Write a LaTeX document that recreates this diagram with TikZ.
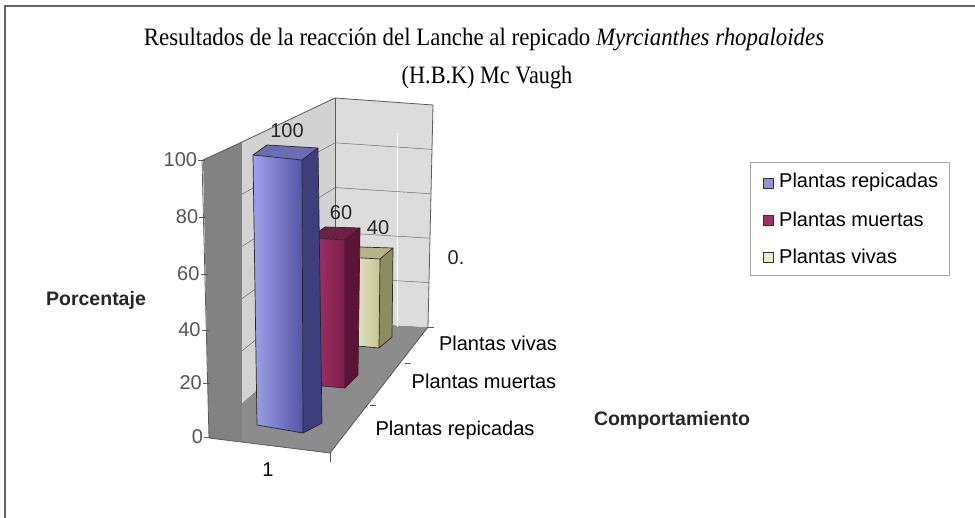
\documentclass[tikz,border=0pt]{standalone}
\usepackage{fontspec}
\usepackage{graphicx}
\setmainfont{Liberation Serif}
\newfontfamily\arialf{Liberation Sans}
\definecolor{darkwall}{HTML}{828282}
\definecolor{floorc}{HTML}{8C8C8C}
\definecolor{sidewall}{HTML}{D2D2D2}
\definecolor{backwall}{HTML}{DCDCDC}
\definecolor{gridc}{HTML}{6E6E6E}
\definecolor{edgec}{HTML}{5A5A5A}
\definecolor{blueL}{HTML}{A0A0EC}
\definecolor{blueR}{HTML}{5454A4}
\definecolor{blueS}{HTML}{3E3E7C}
\definecolor{blueT}{HTML}{6C6CB4}
\definecolor{redL}{HTML}{A83466}
\definecolor{redR}{HTML}{7C1E4C}
\definecolor{redS}{HTML}{5A1434}
\definecolor{redT}{HTML}{6E1F42}
\definecolor{yelL}{HTML}{F2F2CC}
\definecolor{yelR}{HTML}{C4C496}
\definecolor{yelS}{HTML}{8C8C5E}
\definecolor{yelT}{HTML}{B4B486}
\definecolor{ticktext}{HTML}{555555}
\tikzset{
  sanslbl/.style={font=\arialf\fontsize{20}{22}\selectfont, inner sep=0pt},
  ticklbl/.style={sanslbl, text=ticktext, anchor=east},
  boldlbl/.style={font=\arialf\bfseries\fontsize{19.5}{22}\selectfont, inner sep=0pt, text=black!85},
  baredge/.style={draw=black!85, line width=0.7pt, line join=round},
  grid3d/.style={draw=gridc, line width=0.5pt},
  legmark/.style={draw=black!80, line width=0.5pt},
  titlelbl/.style={font=\fontsize{25}{27}\selectfont, inner sep=0pt},
}
\begin{document}
\begin{tikzpicture}[x=1pt,y=-1pt]
\useasboundingbox (0,0) rectangle (975,518);
% outer frame
\draw[draw=black!60, line width=1.3pt] (5,518) -- (5,6) -- (975,6);
% title
\node[titlelbl] (title1) at (484,40) {\scalebox{0.915}[1]{Resultados de la reacción del Lanche al repicado \textit{Myrcianthes rhopaloides}}};
\node[titlelbl] (title2) at (487,78) {\scalebox{0.89}[1]{(H.B.K) Mc Vaugh}};
% walls
\fill[darkwall] (203,160) -- (242,142) -- (242,442) -- (209,438) -- cycle;
\fill[floorc] (242,403) -- (335,322) -- (428,327) -- (330,453) -- (209,438) -- (242,442) -- cycle;
\fill[sidewall] (242,142) -- (335,98) -- (335,322) -- (242,403) -- cycle;
\fill[backwall] (335,98) -- (433,105) -- (428,327) -- (335,322) -- cycle;
\draw[white, line width=1pt] (397,133) -- (397,327);
% gridlines
\foreach \k in {1,2,3,4}{
  \draw[grid3d] (335,{98+44.8*\k}) -- ({433-1*\k},{105+44.4*\k});
  \draw[grid3d] (242,{142+52.2*\k}) -- (335,{98+44.8*\k});
}
\draw[edgec, line width=0.8pt] (203,160) -- (242,142) -- (335,98) -- (433,105) -- (428,327);
\draw[edgec, line width=0.8pt] (335,98) -- (335,322);
% axes
\draw[edgec, line width=0.8pt] (202,160) -- (209,438) -- (330,453) -- (428,327);
\foreach \y/\v [count=\i] in {160/100,217/80,274/60,330/40,383/20,437/0}{
  \draw[edgec, line width=0.8pt] ({197+\i*1.2},\y) -- ({204+\i*1.2},\y);
  \node[ticklbl] (yt\i) at ({196+\i*1.2},\y) {\v};
}
\draw[edgec, line width=0.8pt] (330,453) -- (330,462);
\draw[edgec, line width=0.8pt] (370,405) -- (376,405);
\draw[edgec, line width=0.8pt] (405,363) -- (411,363);
\draw[edgec, line width=0.8pt] (428,327) -- (434,327);
% yellow bar
\fill[yelT] (345,257) -- (360,247) -- (393,248) -- (380,259) -- cycle;
\shade[left color=yelL, right color=yelR] (345,257) -- (380,259) -- (379,348) -- (347,345) -- cycle;
\fill[yelS] (380,259) -- (393,248) -- (392,337) -- (379,348) -- cycle;
\draw[baredge] (345,257) -- (360,247) -- (393,248) -- (392,337) -- (379,348) -- (347,345) -- cycle
  (345,257) -- (380,259) -- (393,248) (380,259) -- (379,348);
% red bar
\fill[redT] (310,238) -- (325,227) -- (360,228) -- (345,240) -- cycle;
\shade[left color=redL, right color=redR] (310,238) -- (345,240) -- (345,388) -- (312,385) -- cycle;
\fill[redS] (345,240) -- (360,228) -- (358,375) -- (345,388) -- cycle;
\draw[baredge] (310,238) -- (325,227) -- (360,228) -- (358,375) -- (345,388) -- (312,385) -- cycle
  (310,238) -- (345,240) -- (360,228) (345,240) -- (345,388);
% blue bar
\fill[blueT] (253,155) -- (267,145) -- (318,148) -- (302,160) -- cycle;
\shade[left color=blueL, right color=blueR] (253,155) -- (302,160) -- (303,433) -- (257,425) -- cycle;
\fill[blueS] (302,160) -- (318,148) -- (322,423) -- (303,433) -- cycle;
\draw[baredge] (253,155) -- (267,145) -- (318,148) -- (322,423) -- (303,433) -- (257,425) -- cycle
  (253,155) -- (302,160) -- (318,148) (302,160) -- (303,433);
% data labels
\node[sanslbl, text=black!85] (v100) at (287,131) {100};
\node[sanslbl, text=black!85] (v60) at (341,213) {60};
\node[sanslbl, text=black!85] (v40) at (378,228) {40};
\node[sanslbl, text=black!85] (v0) at (456,258) {0.};
% category labels
\node[sanslbl] (c1) at (455,430) {Plantas repicadas};
\node[sanslbl] (c2) at (484,381) {Plantas muertas};
\node[sanslbl] (c3) at (498,343) {Plantas vivas};
\node[sanslbl] (x1) at (268,470) {1};
% axis titles
\node[boldlbl] (ylab) at (96,300) {Porcentaje};
\node[boldlbl] (xlab) at (672,420) {Comportamiento};
% legend
\draw[draw=black!35, fill=white, line width=0.8pt] (750,162) rectangle (949,275);
\node[legmark, fill=blueL!80!blueR, minimum size=10pt, inner sep=0pt] (m1) at (768,183) {};
\node[legmark, fill=redL!85!redR, minimum size=10pt, inner sep=0pt] (m2) at (768,220) {};
\node[legmark, fill=yelL!85!yelR, minimum size=10pt, inner sep=0pt] (m3) at (768,257) {};
\node[sanslbl, anchor=west] (l1) at (779,182) {Plantas repicadas};
\node[sanslbl, anchor=west] (l2) at (779,219) {Plantas muertas};
\node[sanslbl, anchor=west] (l3) at (779,256) {Plantas vivas};
\end{tikzpicture}
\end{document}
